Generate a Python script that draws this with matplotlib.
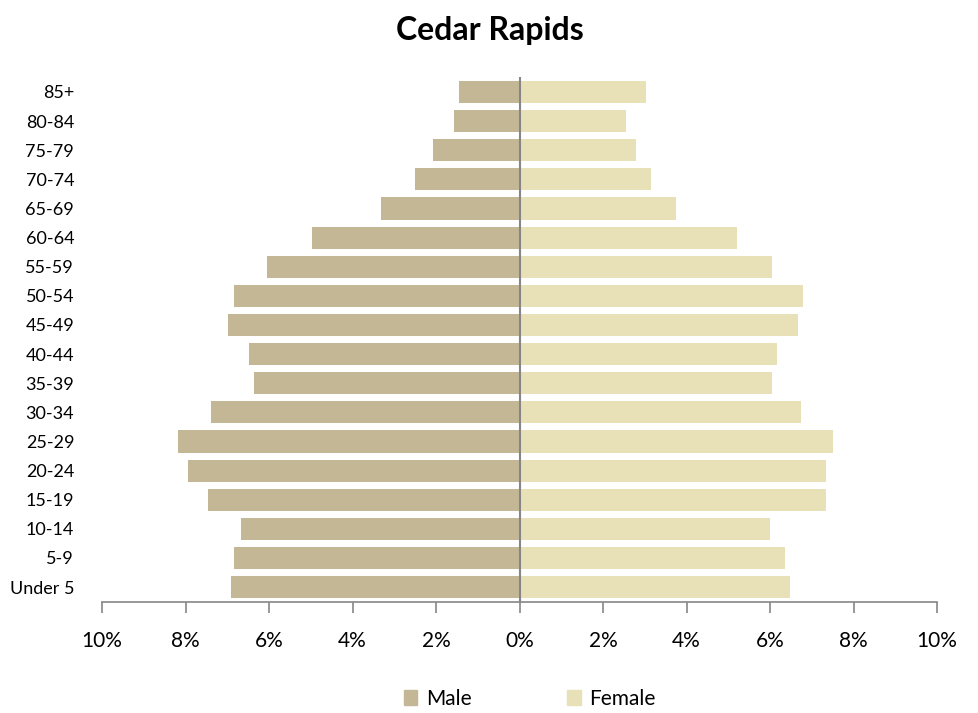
import matplotlib.pyplot as plt
import numpy as np
from matplotlib.patches import Patch

plt.rcParams['font.family'] = ['Lato', 'DejaVu Sans']

# age groups, bottom to top
ages = ['Under 5', '5-9', '10-14', '15-19', '20-24', '25-29', '30-34', '35-39',
        '40-44', '45-49', '50-54', '55-59', '60-64', '65-69', '70-74', '75-79',
        '80-84', '85+']
male = [6.92, 6.83, 6.68, 7.45, 7.95, 8.19, 7.38, 6.37, 6.49, 6.99, 6.85,
        6.04, 4.96, 3.31, 2.51, 2.08, 1.56, 1.46]
female = [6.49, 6.37, 6.01, 7.35, 7.35, 7.52, 6.75, 6.04, 6.16, 6.66, 6.80,
          6.04, 5.20, 3.74, 3.16, 2.78, 2.54, 3.02]
xticks = [-10, -8, -6, -4, -2, 0, 2, 4, 6, 8, 10]

male_col = '#c4b796'
female_col = '#e8e1b8'

fig = plt.figure(figsize=(9.79, 7.13), dpi=100)
ax = fig.add_axes([102 / 979, 0.1562, (937 - 102) / 979, 0.8914 - 0.1562])

y = np.arange(len(ages))
ax.barh(y, -np.array(male), height=0.76, color=male_col, label='Male')
ax.barh(y, female, height=0.76, color=female_col, label='Female')
ax.axvline(0, color='#868686', lw=1.5)

ax.set_xlim(-10, 10)
ax.set_ylim(-0.5, len(ages) - 0.5)
ax.set_yticks(y)
ax.set_yticklabels(ages, fontsize=13)
ax.set_xticks(xticks)
ax.set_xticklabels(['%d%%' % abs(v) for v in xticks], fontsize=15)
ax.tick_params(axis='y', length=0, pad=20)
ax.tick_params(axis='x', direction='out', length=8, color='#868686', width=1.2, pad=13)

for s in ['top', 'right', 'left']:
    ax.spines[s].set_visible(False)
ax.spines['bottom'].set_color('#868686')
ax.spines['bottom'].set_linewidth(1.2)

fig.suptitle('Cedar Rapids', fontsize=23, fontweight='bold', y=0.978)

handles = [Patch(color=male_col, label='Male'), Patch(color=female_col, label='Female')]
fig.legend(handles=handles, loc='lower center', ncol=2, frameon=False, fontsize=15,
           bbox_to_anchor=(0.541, -0.02), handlelength=0.65, handleheight=0.7,
           handletextpad=0.4, columnspacing=4.6)

fig.savefig('out.png', dpi=100)
